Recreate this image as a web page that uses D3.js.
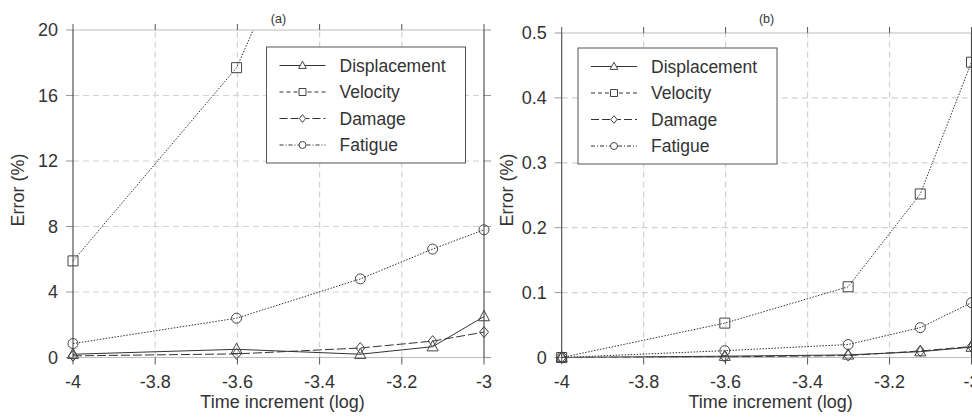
<!DOCTYPE html>
<html>
<head>
<meta charset="utf-8">
<script src="https://cdn.jsdelivr.net/npm/d3@7"></script>
<style>
  body { margin: 0; background: #fff; }
  svg { display: block; font-family: "Liberation Sans", Arial, sans-serif; }
</style>
</head>
<body>
<div id="chart"></div>
<script>
// log10 of the time increment
const timeLog = [-4, -3.602, -3.301, -3.125, -3];
const seriesNames = ["Displacement", "Velocity", "Damage", "Fatigue"];
const xTicks = [-4, -3.8, -3.6, -3.4, -3.2, -3];

// panel (a)
const dispA = [0.2, 0.5, 0.2, 0.66, 2.5];
const veloA = [5.9, 17.7, 34.8, 45, 55];
const damA = [0.1, 0.22, 0.58, 1.0, 1.55];
const fatA = [0.85, 2.4, 4.8, 6.62, 7.8];
const yTicksA = [0, 4, 8, 12, 16, 20];

// panel (b)
const dispB = [0, 0.002, 0.004, 0.009, 0.016];
const veloB = [0, 0.053, 0.109, 0.252, 0.455];
const damB = [0, 0.001, 0.003, 0.010, 0.017];
const fatB = [0, 0.0105, 0.020, 0.046, 0.0845];
const yTicksB = [0, 0.1, 0.2, 0.3, 0.4, 0.5];

const width = 972, height = 418;
const ink = "#333";

// plot line style / legend line style / marker per series
const styles = {
  Displacement: { dash: null, legendDash: null, marker: "triangle" },
  Velocity: { dash: "1.5,1.5", legendDash: "4,3", marker: "square" },
  Damage: { dash: "9,3", legendDash: "8,3", marker: "diamond" },
  Fatigue: { dash: "1.5,1.5", legendDash: "4,2,1,2", marker: "circle" }
};

const svg = d3.select("#chart").append("svg")
    .attr("width", width)
    .attr("height", height);

function markerPath(type, s) {
  if (type === "triangle") return `M0,${-s * 0.62}L${s * 0.55},${s * 0.42}L${-s * 0.55},${s * 0.42}Z`;
  if (type === "square") return `M${-s / 2},${-s / 2}h${s}v${s}h${-s}Z`;
  if (type === "diamond") return `M0,${-s * 0.55}L${s * 0.45},0L0,${s * 0.55}L${-s * 0.45},0Z`;
  return d3.arc()({ innerRadius: 0, outerRadius: s / 2, startAngle: 0, endAngle: 2 * Math.PI });
}

function drawPanel(cfg) {
  const x = d3.scaleLinear().domain([-4, -3]).range([cfg.left, cfg.right]);
  const y = d3.scaleLinear().domain([0, cfg.ymax]).range([357.5, cfg.top]);
  const g = svg.append("g");

  const clipId = "clip-" + cfg.name;
  g.append("clipPath").attr("id", clipId)
    .append("rect")
      .attr("x", cfg.left).attr("y", cfg.top)
      .attr("width", cfg.right - cfg.left).attr("height", 357.5 - cfg.top);

  // grid
  g.selectAll(".vgrid").data(xTicks.slice(1, -1)).join("line")
      .attr("x1", d => x(d)).attr("x2", d => x(d))
      .attr("y1", y(0)).attr("y2", cfg.top)
      .attr("stroke", "#d2d2d2").attr("stroke-width", 1.2)
      .attr("stroke-dasharray", "6,4");
  g.selectAll(".hgrid").data(cfg.yTicks.slice(1, -1)).join("line")
      .attr("x1", cfg.left).attr("x2", cfg.right)
      .attr("y1", d => y(d)).attr("y2", d => y(d))
      .attr("stroke", "#d2d2d2").attr("stroke-width", 1.2)
      .attr("stroke-dasharray", "6,4");

  // top and bottom lines are light, with outward y ticks
  [0, cfg.ymax].forEach(v => {
    g.append("line")
        .attr("x1", cfg.left).attr("x2", cfg.right)
        .attr("y1", y(v)).attr("y2", y(v))
        .attr("stroke", "#bdbdbd").attr("stroke-width", 1.2);
  });
  g.selectAll(".ytickL").data(cfg.yTicks).join("line")
      .attr("x1", cfg.left - 7).attr("x2", cfg.left)
      .attr("y1", d => y(d)).attr("y2", d => y(d))
      .attr("stroke", "#999");
  g.selectAll(".ytickR").data(cfg.yTicks).join("line")
      .attr("x1", cfg.right).attr("x2", cfg.right + 7)
      .attr("y1", d => y(d)).attr("y2", d => y(d))
      .attr("stroke", "#999");

  // x ticks, outward at top and bottom
  g.selectAll(".xtickB").data(xTicks).join("line")
      .attr("x1", d => x(d)).attr("x2", d => x(d))
      .attr("y1", y(0)).attr("y2", y(0) + 7)
      .attr("stroke", "#555");
  g.selectAll(".xtickT").data(xTicks).join("line")
      .attr("x1", d => x(d)).attr("x2", d => x(d))
      .attr("y1", cfg.top - 6).attr("y2", cfg.top)
      .attr("stroke", "#555");

  // left and right axis lines
  [cfg.left, cfg.right].forEach(px => {
    g.append("line")
        .attr("x1", px).attr("x2", px)
        .attr("y1", cfg.top).attr("y2", y(0))
        .attr("stroke", "#444").attr("stroke-width", 1.1);
  });

  // tick labels
  g.selectAll(".xlab").data(xTicks).join("text")
      .attr("x", d => x(d)).attr("y", 388)
      .attr("text-anchor", "middle")
      .attr("font-size", 18).attr("fill", ink)
      .text(d => d3.format("")(d).replace("−", "-"));
  g.selectAll(".ylab").data(cfg.yTicks).join("text")
      .attr("x", cfg.left - 15).attr("y", d => y(d))
      .attr("dy", "0.35em")
      .attr("text-anchor", "end")
      .attr("font-size", 18).attr("fill", ink)
      .text(d => d);

  // axis titles
  g.append("text")
      .attr("x", (cfg.left + cfg.right) / 2 + 4).attr("y", 408)
      .attr("text-anchor", "middle")
      .attr("font-size", 18).attr("fill", ink)
      .text("Time increment (log)");
  g.append("text")
      .attr("transform", `translate(${cfg.left - 49},190) rotate(-90)`)
      .attr("text-anchor", "middle")
      .attr("font-size", 18).attr("fill", ink)
      .text("Error (%)");
  g.append("text")
      .attr("x", (cfg.left + cfg.right) / 2).attr("y", 23)
      .attr("text-anchor", "middle")
      .attr("font-size", 12.5).attr("fill", ink)
      .text(cfg.title);

  // series
  const line = d3.line().x(d => x(d[0])).y(d => y(d[1]));
  cfg.series.forEach((vals, i) => {
    const name = seriesNames[i];
    const st = styles[name];
    const pts = timeLog.map((t, j) => [t, vals[j]]);
    g.append("path")
        .attr("clip-path", `url(#${clipId})`)
        .attr("d", line(pts))
        .attr("fill", "none")
        .attr("stroke", ink).attr("stroke-width", 1)
        .attr("stroke-dasharray", st.dash);
    g.selectAll(".m" + i).data(pts.filter(p => p[1] <= cfg.ymax)).join("path")
        .attr("transform", d => `translate(${x(d[0])},${y(d[1])})`)
        .attr("d", markerPath(st.marker, 10))
        .attr("fill", "none")
        .attr("stroke", "#444").attr("stroke-width", 1);
  });

  // legend
  const lg = g.append("g").attr("transform", `translate(${cfg.legendX},${cfg.legendY})`);
  lg.append("rect")
      .attr("width", 199).attr("height", 116)
      .attr("fill", "#fff").attr("stroke", "#555").attr("stroke-width", 1);
  seriesNames.forEach((name, i) => {
    const st = styles[name];
    const row = lg.append("g").attr("transform", `translate(0,${18.5 + i * 26.5})`);
    row.append("line")
        .attr("x1", 13).attr("x2", 59)
        .attr("stroke", ink).attr("stroke-width", 1)
        .attr("stroke-dasharray", st.legendDash);
    row.append("path")
        .attr("transform", "translate(36,0)")
        .attr("d", markerPath(st.marker, 7))
        .attr("fill", "#fff")
        .attr("stroke", "#444").attr("stroke-width", 1);
    row.append("text")
        .attr("x", 73).attr("dy", "0.35em")
        .attr("font-size", 17.5).attr("fill", ink)
        .text(name);
  });
}

drawPanel({
  name: "a", title: "(a)", left: 73, right: 484, top: 30, ymax: 20,
  yTicks: yTicksA, series: [dispA, veloA, damA, fatA],
  legendX: 266.5, legendY: 47
});
drawPanel({
  name: "b", title: "(b)", left: 561.7, right: 971.5, top: 33, ymax: 0.5,
  yTicks: yTicksB, series: [dispB, veloB, damB, fatB],
  legendX: 578, legendY: 48
});
</script>
</body>
</html>
